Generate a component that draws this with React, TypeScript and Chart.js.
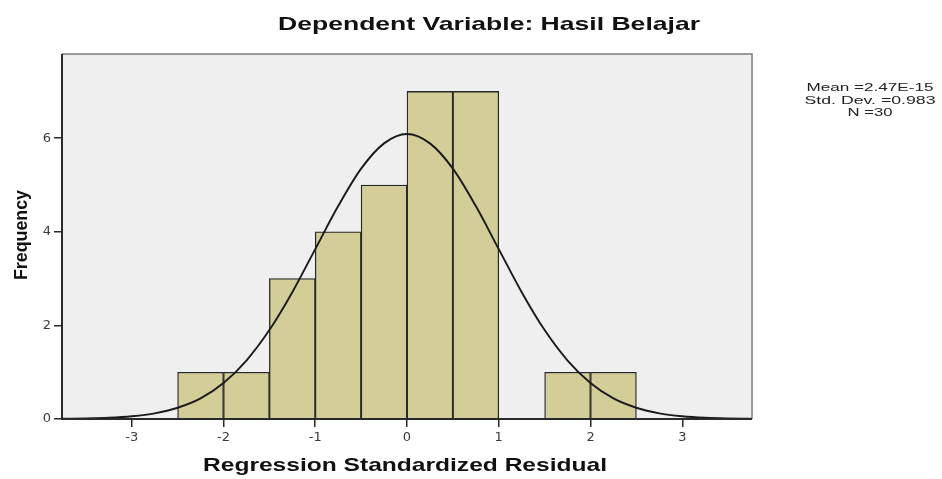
import React, { useEffect, useRef } from "react";
import { Chart, registerables } from "chart.js";

Chart.register(...registerables);

// ---- Data ----
const titleText = "Dependent Variable: Hasil Belajar";
const xAxisTitle = "Regression Standardized Residual";
const yAxisTitle = "Frequency";
const statsLines = ["Mean =2.47E-15", "Std. Dev. =0.983", "N =30"];

const xTicks = [-3, -2, -1, 0, 1, 2, 3];
const yTicks = [0, 2, 4, 6];

const binCenters = [-2.25, -1.75, -1.25, -0.75, -0.25, 0.25, 0.75, 1.25, 1.75, 2.25];
const frequencies = [1, 1, 3, 4, 5, 7, 7, 0, 1, 1];

const curveX = [
  -3.75, -3.5, -3.25, -3, -2.75, -2.5, -2.25, -2, -1.75, -1.5, -1.25, -1, -0.75, -0.5, -0.25,
  0,
  0.25, 0.5, 0.75, 1, 1.25, 1.5, 1.75, 2, 2.25, 2.5, 2.75, 3, 3.25, 3.5, 3.75,
];
const curveY = [
  0.004, 0.011, 0.026, 0.058, 0.12, 0.24, 0.44, 0.77, 1.25, 1.9, 2.71, 3.63, 4.55, 5.35, 5.89,
  6.09,
  5.89, 5.35, 4.55, 3.63, 2.71, 1.9, 1.25, 0.77, 0.44, 0.24, 0.12, 0.058, 0.026, 0.011, 0.004,
];

const X_MIN = -3.76;
const X_MAX = 3.76;
const Y_MAX = 7.8;

function drawStretched(
  ctx: CanvasRenderingContext2D,
  text: string,
  cx: number,
  baseline: number,
  font: string,
  targetWidth: number,
  color: string
) {
  ctx.save();
  ctx.font = font;
  ctx.fillStyle = color;
  const w = ctx.measureText(text).width;
  ctx.translate(cx, baseline);
  ctx.scale(targetWidth / w, 1);
  ctx.textAlign = "center";
  ctx.textBaseline = "alphabetic";
  ctx.fillText(text, 0, 0);
  ctx.restore();
}

const decorPlugin = {
  id: "decor",
  beforeDraw(chart: any) {
    const { ctx, chartArea: a } = chart;
    ctx.save();
    ctx.fillStyle = "#ffffff";
    ctx.fillRect(0, 0, chart.width, chart.height);
    ctx.fillStyle = "#efefef";
    ctx.fillRect(a.left, a.top, a.right - a.left, a.bottom - a.top);
    ctx.restore();
  },
  afterDraw(chart: any) {
    const { ctx, chartArea: a } = chart;
    ctx.save();
    ctx.strokeStyle = "#7c7c7c";
    ctx.lineWidth = 1.5;
    ctx.beginPath();
    ctx.moveTo(a.left, a.top);
    ctx.lineTo(a.right, a.top);
    ctx.lineTo(a.right, a.bottom);
    ctx.stroke();
    ctx.strokeStyle = "#2a2a2a";
    ctx.lineWidth = 2;
    ctx.beginPath();
    ctx.moveTo(a.left, a.top);
    ctx.lineTo(a.left, a.bottom);
    ctx.lineTo(a.right, a.bottom);
    ctx.stroke();
    ctx.restore();

    const fam = "'Liberation Sans', Arial, sans-serif";
    drawStretched(ctx, titleText, 489, 30, `bold 19px ${fam}`, 422, "#111");
    drawStretched(ctx, xAxisTitle, 405, 471, `bold 19px ${fam}`, 404, "#111");

    ctx.save();
    ctx.font = `bold 19px ${fam}`;
    ctx.fillStyle = "#111";
    const w = ctx.measureText(yAxisTitle).width;
    ctx.translate(27, 235);
    ctx.rotate(-Math.PI / 2);
    ctx.scale(90 / w, 1);
    ctx.textAlign = "center";
    ctx.textBaseline = "alphabetic";
    ctx.fillText(yAxisTitle, 0, 0);
    ctx.restore();

    const statW = [127, 131, 45];
    const statBase = [91, 104, 116];
    statsLines.forEach((t, i) => {
      drawStretched(ctx, t, 870, statBase[i], `11px ${fam}`, statW[i], "#222");
    });
  },
};

export default function App() {
  const ref = useRef<HTMLCanvasElement | null>(null);

  useEffect(() => {
    if (!ref.current) return;
    const barData = binCenters.map((x, i) => ({ x, y: frequencies[i] }));
    const lineData = curveX.map((x, i) => ({ x, y: curveY[i] }));
    const tickFont = { family: "'DejaVu Sans', sans-serif", size: 13 };

    const chart = new Chart(ref.current, {
      type: "bar",
      data: {
        datasets: [
          {
            type: "line",
            data: lineData,
            borderColor: "#1a1a1a",
            borderWidth: 1.9,
            pointRadius: 0,
            fill: false,
            cubicInterpolationMode: "monotone",
            order: 0,
          } as any,
          {
            type: "bar",
            data: barData,
            backgroundColor: "#d3ce97",
            borderColor: "#262626",
            borderWidth: 1.3,
            barThickness: "flex",
            barPercentage: 1,
            categoryPercentage: 1,
            order: 1,
          } as any,
        ],
      },
      options: {
        responsive: false,
        animation: false,
        devicePixelRatio: 1,
        layout: { padding: { top: 54, right: 190, left: 0, bottom: 0 } },
        plugins: { legend: { display: false }, tooltip: { enabled: false } },
        scales: {
          x: {
            type: "linear",
            position: "bottom",
            min: X_MIN,
            max: X_MAX,
            offset: false,
            border: { display: false },
            grid: {
              offset: false,
              drawOnChartArea: false,
              drawTicks: true,
              tickLength: 8,
              color: "#2a2a2a",
              lineWidth: 1.5,
            },
            ticks: { color: "#3c3c3c", font: tickFont, padding: 3, maxRotation: 0 },
            afterBuildTicks: (axis: any) => {
              axis.ticks = xTicks.map((v) => ({ value: v }));
            },
            afterFit: (axis: any) => {
              axis.height = 60;
            },
          },
          y: {
            type: "linear",
            min: 0,
            max: Y_MAX,
            border: { display: false },
            grid: { drawOnChartArea: false, drawTicks: true, tickLength: 8, color: "#2a2a2a", lineWidth: 1.5 },
            ticks: { color: "#3c3c3c", font: tickFont, padding: 3 },
            afterBuildTicks: (axis: any) => {
              axis.ticks = yTicks.map((v) => ({ value: v }));
            },
            afterFit: (axis: any) => {
              axis.width = 62;
            },
          },
        },
      } as any,
      plugins: [decorPlugin],
    });
    return () => chart.destroy();
  }, []);

  return (
    <div style={{ position: "fixed", left: 0, top: 0, width: 942, height: 479, background: "#fff" }}>
      <canvas ref={ref} width={942} height={479} style={{ display: "block", width: 942, height: 479 }} />
    </div>
  );
}
